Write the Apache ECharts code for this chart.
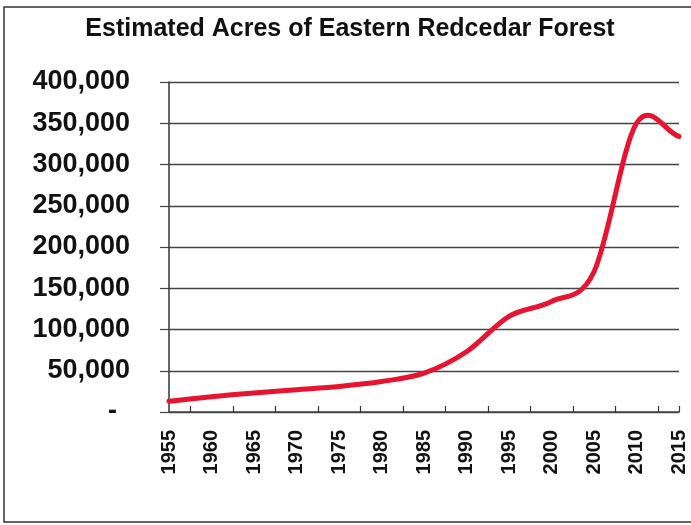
<!DOCTYPE html>
<html>
<head>
<meta charset="utf-8">
<script src="https://cdn.jsdelivr.net/npm/echarts@6/dist/echarts.min.js"></script>
<style>
  html, body { margin: 0; padding: 0; background: #ffffff; }
  #chart { width: 691px; height: 525px; }
</style>
</head>
<body>
<div id="chart"></div>
<script>
const titleText = 'Estimated Acres of Eastern Redcedar Forest';
const years = [1955, 1960, 1965, 1970, 1975, 1980, 1985, 1990, 1995, 2000, 2005, 2010, 2015];
const acres = [13000, 18500, 23000, 27000, 31000, 37000, 47000, 73000, 116000, 134000, 170000, 350000, 334000];
const yTickValues = [0, 50000, 100000, 150000, 200000, 250000, 300000, 350000, 400000];
const xTickMarks = [1957.5, 1962.5, 1967.5, 1972.5, 1977.5, 1982.5, 1987.5, 1992.5, 1997.5, 2002.5, 2007.5, 2012.5, 2015];

const FONT = '"Liberation Sans", Arial, sans-serif';
const LINE_COLOR = '#e8132f';
const chart = echarts.init(document.getElementById('chart'), null, { renderer: 'canvas' });

// Smoothed line (Catmull-Rom style Bezier, like a spreadsheet's "smoothed line"),
// built from the data points mapped through the chart's own axes.
function renderSmoothLine(params, api) {
  if (params.dataIndex !== 0) return null;
  const pts = years.map((y, i) => api.coord([y, acres[i]]));
  const n = pts.length;
  let d = 'M' + pts[0][0] + ' ' + pts[0][1];
  for (let i = 0; i < n - 1; i++) {
    const p0 = i > 0 ? pts[i - 1] : [2 * pts[0][0] - pts[1][0], 2 * pts[0][1] - pts[1][1]];
    const p1 = pts[i];
    const p2 = pts[i + 1];
    const p3 = i + 2 < n ? pts[i + 2] : [2 * pts[n - 1][0] - pts[n - 2][0], 2 * pts[n - 1][1] - pts[n - 2][1]];
    const c1x = p1[0] + (p2[0] - p0[0]) / 6;
    const c1y = p1[1] + (p2[1] - p0[1]) / 6;
    const c2x = p2[0] - (p3[0] - p1[0]) / 6;
    const c2y = p2[1] - (p3[1] - p1[1]) / 6;
    d += ' C' + c1x + ' ' + c1y + ' ' + c2x + ' ' + c2y + ' ' + p2[0] + ' ' + p2[1];
  }
  return {
    type: 'path',
    shape: { pathData: d },
    style: { stroke: LINE_COLOR, lineWidth: 5, fill: null, lineCap: 'round', lineJoin: 'round' },
    silent: true
  };
}

chart.setOption({
  backgroundColor: '#ffffff',
  animation: false,
  graphic: [
    {
      type: 'rect',
      shape: { x: 4, y: 7, width: 720, height: 515 },
      style: { fill: 'none', stroke: '#333', lineWidth: 1.5 },
      silent: true
    },
    {
      type: 'text',
      style: {
        text: titleText,
        x: 350, y: 29,
        textAlign: 'center',
        textVerticalAlign: 'middle',
        font: 'bold 25px ' + FONT,
        fill: '#111'
      },
      silent: true
    }
  ],
  grid: { left: 169, right: 12, top: 82, bottom: 113, containLabel: false },
  xAxis: {
    type: 'value',
    min: 1955,
    max: 2015,
    interval: 5,
    axisLine: { show: true, lineStyle: { color: '#444', width: 1.5 } },
    axisTick: { show: true, inside: true, length: 6, customValues: xTickMarks, lineStyle: { color: '#333', width: 1.2 } },
    axisLabel: {
      customValues: years,
      rotate: 90,
      margin: 18,
      fontSize: 20,
      fontWeight: 'bold',
      fontFamily: FONT,
      color: '#111',
      formatter: function (v) { return String(v); }
    },
    splitLine: { show: false }
  },
  yAxis: {
    type: 'value',
    min: 0,
    max: 400000,
    interval: 50000,
    axisLine: { show: true, lineStyle: { color: '#333', width: 1.5 } },
    axisTick: { show: true, length: 9, customValues: yTickValues, lineStyle: { color: '#444', width: 1.2 } },
    splitLine: { show: true, lineStyle: { color: '#444', width: 1.3 } },
    axisLabel: {
      customValues: yTickValues,
      margin: 39,
      fontSize: 27,
      fontWeight: 'bold',
      fontFamily: FONT,
      color: '#111',
      formatter: function (v) {
        if (v === 0) return '{d|-}';
        return v.toLocaleString('en-US');
      },
      rich: {
        d: { fontSize: 27, fontWeight: 'bold', fontFamily: FONT, color: '#111', padding: [0, 13, 0, 0] }
      }
    }
  },
  series: [{
    type: 'custom',
    coordinateSystem: 'cartesian2d',
    data: years.map((y, i) => [y, acres[i]]),
    encode: { x: 0, y: 1 },
    renderItem: renderSmoothLine,
    clip: false
  }]
});
</script>
</body>
</html>
